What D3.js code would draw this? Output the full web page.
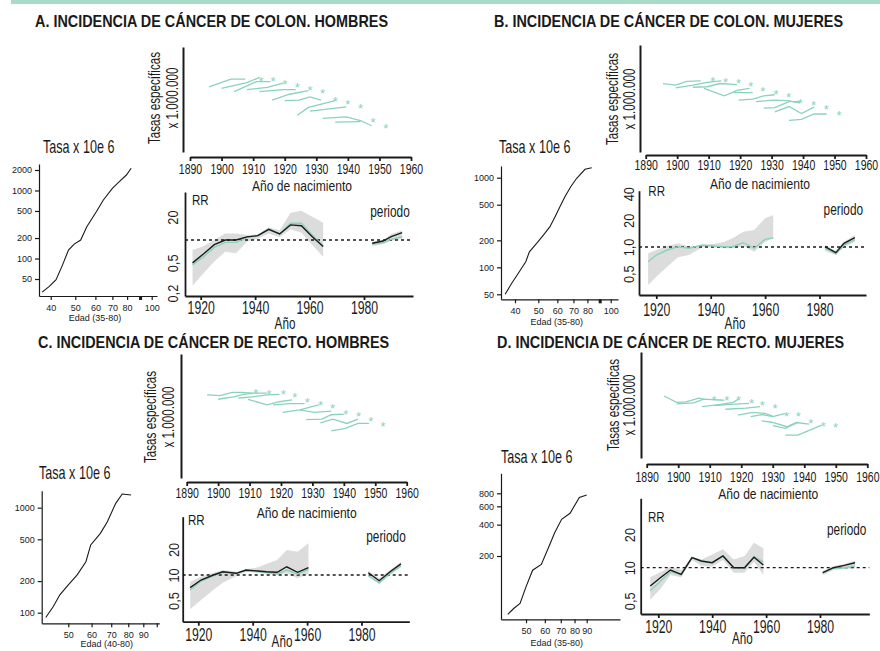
<!DOCTYPE html>
<html>
<head>
<meta charset="utf-8">
<script src="https://cdn.jsdelivr.net/npm/d3@7"></script>
<style>
body { margin: 0; background: #fff; }
svg { display: block; font-family: "Liberation Sans", Arial, sans-serif; }
</style>
</head>
<body>
<svg id="chart" width="880" height="651"></svg>
<script>
// ---- shared labels / ticks
const titles = [
  "A. INCIDENCIA DE CÁNCER DE COLON. HOMBRES",
  "B. INCIDENCIA DE CÁNCER DE COLON. MUJERES",
  "C. INCIDENCIA DE CÁNCER DE RECTO. HOMBRES",
  "D. INCIDENCIA DE CÁNCER DE RECTO. MUJERES"
];
const edadLabels = ["Edad (35-80)", "Edad (35-80)", "Edad (40-80)", "Edad (35-80)"];
const birthTicks = [1890, 1900, 1910, 1920, 1930, 1940, 1950, 1960];
const rrTicksX = [1920, 1940, 1960, 1980];

// ---- A. colon, hombres
const aStarYears = [1912.5, 1916.3, 1920, 1924, 1928, 1932, 1936, 1940, 1944, 1948, 1952];
const aStarVals = [70, 70, 67, 64, 61, 58, 51, 48, 44, 31, 25];
const aCohortLines = [
  [[1896, 62], [1903, 69.5], [1907.5, 69.5]],
  [[1900, 60.5], [1908, 66], [1912, 71]],
  [[1904, 57.5], [1911, 67], [1915.5, 67]],
  [[1908, 59.5], [1914.5, 61.5], [1919.5, 65.5]],
  [[1912, 57.5], [1919.5, 59.5], [1923.5, 59.5]],
  [[1916, 49.5], [1921.5, 55], [1927.5, 58.5]],
  [[1920, 49], [1924.5, 49.5], [1928, 52.5], [1931.5, 49.5]],
  [[1924, 35], [1927.5, 42.5], [1936, 49]],
  [[1928, 39], [1939.5, 43]],
  [[1932, 32], [1939.5, 33.5], [1944, 30], [1947.5, 25]],
  [[1936, 28.5], [1944, 29]]
];
const aAges = [37, 39.5, 42, 44.5, 47, 49.5, 52.5, 55.5, 60.5, 64.5, 70, 74, 79.5, 83];
const aRates = [32, 39, 49, 80, 133, 163, 187, 293, 487, 724, 1076, 1318, 1688, 2118];
const aAgeTicksY = [2000, 1000, 500, 200, 100, 50];
const aAgeTicksX = [40, 50, 60, 70, 80, 90, 100];
const aCohYears = [1917, 1921, 1925, 1929, 1933, 1937, 1941, 1945, 1949, 1953, 1957, 1961, 1965];
const aCohRR = [0.5, 0.655, 0.87, 1.0, 1.0, 1.1, 1.14, 1.38, 1.2, 1.58, 1.54, 1.1, 0.82];
const aCohRRGreen = [0.47, 0.6, 0.8, 0.93, 0.93, 1.085, 1.14, 1.38, 1.2, 1.66, 1.66, 1.16, 0.83];
const aCohLo = [0.25, 0.365, 0.52, 0.7, 0.67, 0.95, 1.05, 1.22, 1.085, 1.38, 1.25, 0.86, 0.6];
const aCohHi = [0.74, 0.83, 1.0, 1.22, 1.22, 1.16, 1.19, 1.47, 1.33, 2.29, 2.43, 2.03, 1.69];
const aPerYears = [1983, 1987, 1990, 1994];
const aPerRR = [0.905, 0.97, 1.105, 1.25];
const aPerRRGreen = [0.886, 0.92, 1.02, 1.105];
const aPerLo = [0.83, 0.886, 0.98, 1.04];
const aPerHi = [0.95, 1.0, 1.2, 1.33];
const aRRTicks = [2, 0.5, 0.2];
const aRRLabels = ["20", "0,5", "0,2"];

// ---- B. colon, mujeres
const bStarYears = [1911.3, 1915.4, 1919.5, 1923.4, 1927.2, 1931.4, 1935.4, 1939.1, 1943.3, 1947.4, 1951.4];
const bStarVals = [68, 67, 66.5, 64, 59, 56.5, 53.5, 48, 46, 42, 36.5];
const bCohortLines = [
  [[1895.5, 64], [1899.5, 62.5], [1903, 66], [1907.5, 66.5]],
  [[1899.5, 60], [1905, 62.5], [1909.5, 65], [1914, 66.5]],
  [[1905, 60.5], [1909.5, 61], [1913.5, 64], [1919, 63]],
  [[1908.5, 59.5], [1915, 52.5], [1919, 57.5], [1923, 59.5]],
  [[1918, 55.5], [1924, 55.5]],
  [[1919.5, 48.5], [1924, 49.5], [1927.5, 52.5], [1931, 53.5]],
  [[1925, 47], [1930.5, 48.5], [1935, 48], [1939, 46]],
  [[1927.5, 41], [1931, 41.5], [1935.5, 47], [1939, 47]],
  [[1931, 37.5], [1935.5, 42.5], [1939.5, 36], [1943.5, 42]],
  [[1935.5, 29.5], [1939.5, 30.5], [1943.5, 35.5], [1947.5, 35.5]]
];
const bAges = [36.4, 38.7, 41.3, 44.4, 45.9, 49.2, 52.5, 55.9, 58.7, 61.5, 64.5, 68.2, 72.2, 78.2, 83.4];
const bRates = [50, 66, 86, 116, 149, 185, 229, 284, 367, 474, 614, 794, 985, 1241, 1294];
const bAgeTicksY = [1000, 500, 200, 100, 50];
const bAgeTicksX = [40, 50, 60, 70, 80, 90, 100];
const bCohYears = [1917, 1920, 1924, 1928, 1932, 1937, 1941, 1945, 1948, 1952, 1956, 1960, 1963];
const bCohRR = [];
const bCohRRGreen = [0.683, 0.812, 0.925, 1.008, 0.967, 1.053, 1.026, 1.008, 1.008, 1.118, 0.967, 1.22, 1.273];
const bCohLo = [0.372, 0.462, 0.6, 0.765, 0.812, 0.992, 0.992, 0.967, 0.967, 1.026, 0.885, 1.148, 1.25];
const bCohHi = [0.849, 0.925, 1.026, 1.1, 1.008, 1.053, 1.081, 1.148, 1.254, 1.488, 1.555, 2.11, 2.3];
const bPerYears = [1982, 1986, 1989, 1993];
const bPerRR = [1.008, 0.862, 1.1, 1.273];
const bPerRRGreen = [0.967, 0.834, 1.053, 1.2];
const bPerLo = [0.908, 0.812, 0.992, 1.148];
const bPerHi = [1.053, 0.908, 1.148, 1.366];
const bRRTicks = [4, 2, 1, 0.5];
const bRRLabels = ["40", "20", "1,0", "0,5"];

// ---- C. recto, hombres
const cStarYears = [1912, 1916.2, 1920.7, 1924.4, 1928.4, 1932.6, 1936.4, 1940.6, 1944.7, 1948.6, 1952.5];
const cStarVals = [70.5, 69.5, 69.5, 67, 63, 60.5, 58.5, 53.5, 52, 48, 43.5];
const cCohortLines = [
  [[1896.5, 67], [1900.5, 66.5], [1904.5, 69], [1907.5, 69], [1911, 68.5]],
  [[1900, 63.5], [1905, 65.5], [1908, 67.5], [1911.5, 68.5], [1915.5, 68.5]],
  [[1906.5, 64.5], [1911, 65.5], [1915.5, 67], [1919.5, 67.5]],
  [[1909.5, 63.5], [1915.5, 59], [1919.5, 61.5], [1923.5, 63]],
  [[1917.5, 59], [1923, 60], [1927.5, 60]],
  [[1920.5, 53], [1926, 55], [1932, 59]],
  [[1926, 55], [1930.5, 53], [1936, 54]],
  [[1928, 47], [1933, 47.5], [1936, 51], [1940, 51.5]],
  [[1932.5, 44.5], [1936.5, 47.5], [1941, 44], [1944.5, 47.5]],
  [[1936, 38], [1940.5, 40], [1944.5, 44], [1948, 44]]
];
const cAges = [41.9, 44.4, 46.8, 50, 53.6, 57.4, 59.6, 64.3, 67.9, 72.5, 76.3, 81.8];
const cRates = [90, 114, 148, 184, 229, 306, 442, 570, 736, 1101, 1350, 1322];
const cAgeTicksY = [1000, 500, 200, 100];
const cAgeTicksX = [50, 60, 70, 80, 90, 100];
const cCohYears = [1917, 1921, 1925.5, 1929, 1934, 1937.5, 1942, 1945, 1949, 1952.5, 1956.5, 1960.5];
const cCohRR = [0.709, 0.873, 1.0, 1.09, 1.047, 1.145, 1.114, 1.093, 1.076, 1.25, 1.076, 1.22];
const cCohRRGreen = [0.666, 0.85, 0.98, 1.076, 1.047, 1.12, 1.093, 1.085, 1.027, 1.145, 1.027, 1.167];
const cCohLo = [0.395, 0.508, 0.666, 0.81, 0.973, 1.093, 1.064, 1.027, 1.0, 1.047, 0.915, 1.027];
const cCohHi = [0.834, 0.955, 1.064, 1.145, 1.093, 1.167, 1.23, 1.35, 1.5, 1.97, 1.88, 2.36];
const cPerYears = [1982.5, 1986.5, 1990.5, 1994.5];
const cPerRR = [1.064, 0.857, 1.093, 1.35];
const cPerRRGreen = [0.98, 0.81, 1.047, 1.276];
const cPerLo = [0.955, 0.784, 1.0, 1.23];
const cPerHi = [1.12, 0.915, 1.145, 1.43];
const cRRTicks = [2, 1, 0.5];
const cRRLabels = ["20", "10", "0,5"];

// ---- D. recto, mujeres
const dStarYears = [1911.4, 1915.4, 1919.1, 1923.3, 1926.7, 1930.7, 1934.4, 1938.1, 1942.1, 1946, 1949.9];
const dStarVals = [57, 56.5, 57, 54, 52, 49, 42, 41.5, 35, 32.5, 31];
const dCohortLines = [
  [[1895.5, 58.5], [1899.5, 52.5], [1902.5, 53], [1906.5, 56.5], [1908, 55.5]],
  [[1899.5, 51], [1905, 52], [1908, 55.5], [1914.5, 54.5]],
  [[1907.5, 48.5], [1913.5, 50.5], [1917.5, 52.5], [1919, 55.5]],
  [[1911.5, 49.5], [1916.5, 50.5], [1922.5, 51.5]],
  [[1915, 46], [1921.5, 47], [1926, 48.5]],
  [[1919, 40.5], [1923.5, 43], [1927.5, 42], [1930, 39.5]],
  [[1923, 39], [1926.5, 41], [1930, 39], [1934, 42]],
  [[1926.5, 35], [1930, 33.5], [1934.5, 29.5], [1937.5, 33.5], [1941.5, 32]],
  [[1930, 30.5], [1934, 28], [1938, 33.5]],
  [[1934, 21.5], [1938, 21.5], [1945.5, 31]]
];
const dAges = [41.9, 44.5, 47.2, 50, 53.3, 58, 62, 66, 70.6, 76.6, 83.8, 90];
const dRates = [55, 63, 70, 101, 146, 166, 237, 334, 450, 514, 731, 771];
const dAgeTicksY = [800, 600, 400, 200];
const dAgeTicksX = [50, 60, 70, 80, 90];
const dCohYears = [1917, 1921, 1924.5, 1928.5, 1932.5, 1936, 1940, 1944, 1948, 1952, 1955.5, 1959];
const dCohRR = [0.682, 0.818, 0.953, 0.871, 1.233, 1.15, 1.11, 1.277, 1.0, 1.0, 1.243, 1.058];
const dCohRRGreen = [0.618, 0.762, 0.92, 0.858, 1.233, 1.13, 1.11, 1.277, 1.0, 1.0, 1.26, 1.13];
const dCohLo = [0.51, 0.65, 0.858, 0.818, 1.175, 1.036, 1.02, 1.175, 0.9, 0.9, 1.13, 0.858];
const dCohHi = [0.818, 0.92, 1.02, 0.953, 1.26, 1.19, 1.32, 1.47, 1.19, 1.277, 1.69, 1.5];
const dPerYears = [1981, 1985, 1989, 1993];
const dPerRR = [0.9, 1.0, 1.05, 1.11];
const dPerRRGreen = [0.89, 0.99, 1.0, 1.036];
const dPerLo = [0.858, 0.953, 0.973, 0.99];
const dPerHi = [0.93, 1.036, 1.08, 1.16];
const dRRTicks = [2, 1, 0.5];
const dRRLabels = ["20", "10", "0,5"];

// ---- layout (pixel positions of each sub-plot)
const layoutA = {
  title: [35, 26.5],
  top: {ax: 183, y0: 47, y1: 152, xy: 157, x0: 190, x1: 411, pad: 2.6},
  ylab: [154, 172, 98], xlab: [302, 186], tasa: [43, 147],
  age: {ax: 39, y0: 164, xy: 296, x1: 157, yA: [2000, 170, 50, 279], xA: [40, 50.7, 100, 151.7]},
  edad: [95, 318.3],
  rr: {ax: 185, y0: 192, xy: 296, x1: 413, xA: [1920, 200.7, 1980, 364], yA: [1, 240, 0.1, 316], labD: 12, pad: 1.7},
  rrLab: [192, 200], per: [390, 211], ano: [285, 323]
};
const layoutB = {
  title: [494, 26.5],
  top: {ax: 640, y0: 45, y1: 152, xy: 155, x0: 645.7, x1: 866, pad: 0.8},
  ylab: [612, 629, 99], xlab: [760, 184], tasa: [499, 147],
  age: {ax: 501, y0: 166, xy: 299.3, x1: 618, yA: [1000, 177.7, 50, 294.3], xA: [40, 515, 100, 610.7]},
  edad: [556.7, 321.7],
  rr: {ax: 639, y0: 190.7, xy: 295, x1: 866, xA: [1920, 656.3, 1980, 819.5], yA: [1, 247, 0.1, 335.6], labD: 10.7, pad: 4.7},
  rrLab: [648.3, 191], per: [843.3, 209.3], ano: [735, 323.3]
};
const layoutC = {
  title: [38, 348.3],
  top: {ax: 181, y0: 354, y1: 478, xy: 482, x0: 186.7, x1: 406.7, pad: 1.6},
  ylab: [150, 168, 417], xlab: [306.7, 512.5], tasa: [39, 473],
  age: {ax: 41.7, y0: 490.7, xy: 623.3, x1: 159.3, yA: [1000, 507.7, 100, 612.7], xA: [50, 68.3, 90, 143.3]},
  edad: [106.7, 644.3],
  rr: {ax: 182.7, y0: 516.7, xy: 621.7, x1: 409.3, xA: [1920, 198.3, 1980, 361.5], yA: [1, 575, 0.1, 660], labD: 9.4, pad: 3},
  rrLab: [188, 520], per: [386, 536.7], ano: [282, 641]
};
const layoutD = {
  title: [497, 348.3],
  top: {ax: 641, y0: 352, y1: 458, xy: 464, x0: 646.7, x1: 867.3, pad: 3.1},
  ylab: [613.3, 629, 405], xlab: [768.3, 494], tasa: [501, 456.7],
  age: {ax: 501, y0: 473.3, xy: 619.3, x1: 620, yA: [800, 493.3, 200, 556], xA: [50, 526, 90, 586.7]},
  edad: [556.7, 642.7],
  rr: {ax: 640.7, y0: 498.3, xy: 614, x1: 869.3, xA: [1920, 658.3, 1980, 820], yA: [1, 567.7, 0.1, 677.7], labD: 10.7, pad: 2.4},
  rrLab: [648, 516.7], per: [846.7, 529], ano: [742.3, 638.3]
};

const panels = [
  {L: layoutA, title: titles[0], edad: edadLabels[0], starYears: aStarYears, starVals: aStarVals, lines: aCohortLines,
   ages: aAges, rates: aRates, ageTicksY: aAgeTicksY, ageTicksX: aAgeTicksX, noLabel: [90], thick: 90,
   coh: [aCohYears, aCohRR, aCohRRGreen, aCohLo, aCohHi], per: [aPerYears, aPerRR, aPerRRGreen, aPerLo, aPerHi],
   rrTicks: aRRTicks, rrLabels: aRRLabels},
  {L: layoutB, title: titles[1], edad: edadLabels[1], starYears: bStarYears, starVals: bStarVals, lines: bCohortLines,
   ages: bAges, rates: bRates, ageTicksY: bAgeTicksY, ageTicksX: bAgeTicksX, noLabel: [90], thick: 90,
   coh: [bCohYears, bCohRR, bCohRRGreen, bCohLo, bCohHi], per: [bPerYears, bPerRR, bPerRRGreen, bPerLo, bPerHi],
   rrTicks: bRRTicks, rrLabels: bRRLabels},
  {L: layoutC, title: titles[2], edad: edadLabels[2], starYears: cStarYears, starVals: cStarVals, lines: cCohortLines,
   ages: cAges, rates: cRates, ageTicksY: cAgeTicksY, ageTicksX: cAgeTicksX, noLabel: [100], thick: null,
   coh: [cCohYears, cCohRR, cCohRRGreen, cCohLo, cCohHi], per: [cPerYears, cPerRR, cPerRRGreen, cPerLo, cPerHi],
   rrTicks: cRRTicks, rrLabels: cRRLabels},
  {L: layoutD, title: titles[3], edad: edadLabels[3], starYears: dStarYears, starVals: dStarVals, lines: dCohortLines,
   ages: dAges, rates: dRates, ageTicksY: dAgeTicksY, ageTicksX: dAgeTicksX, noLabel: [], thick: null,
   coh: [dCohYears, dCohRR, dCohRRGreen, dCohLo, dCohHi], per: [dPerYears, dPerRR, dPerRRGreen, dPerLo, dPerHi],
   rrTicks: dRRTicks, rrLabels: dRRLabels}
];

const GREEN = "#8ad3ba", BAND = "#dcdcdc", INK = "#1a1a1a";
const svg = d3.select("#chart");

svg.append("rect").attr("x", 11).attr("y", 0).attr("width", 869).attr("height", 4).attr("fill", "#a8dcc8");

// scale fixed by two known points, then stretched to the axis extent
function anchored(scale, v1, p1, v2, p2, pa, pb) {
  scale.domain([v1, v2]).range([p1, p2]);
  return scale.domain([scale.invert(pa), scale.invert(pb)]).range([pa, pb]);
}

// narrow-looking text: Liberation Sans squeezed horizontally
function txt(g, x, y, s, size, o = {}) {
  return g.append("text")
    .attr("transform", `translate(${x},${y})` + (o.rot ? ` rotate(${o.rot})` : "") + ` scale(${o.sx ?? 0.74},1)`)
    .attr("text-anchor", o.anchor || "middle")
    .attr("dy", o.dy ?? "0.35em")
    .attr("font-size", size)
    .attr("font-weight", o.bold ? "bold" : null)
    .attr("fill", INK)
    .text(s);
}

function styleAxis(sel, w, fs, sx) {
  sel.attr("font-family", null).attr("font-size", null);
  sel.selectAll(".domain, .tick line").attr("stroke", INK).attr("stroke-width", w);
  if (fs) sel.selectAll(".tick text").attr("font-size", fs).attr("fill", INK)
    .attr("transform", sx !== 1 ? `scale(${sx},1)` : null);
}

function drawPanel(p) {
  const L = p.L, g = svg.append("g");
  txt(g, L.title[0], L.title[1], p.title, 16, {anchor: "start", dy: 0, bold: true, sx: 0.9});

  // cohort curves (Tasas específicas vs año de nacimiento)
  const tx = d3.scaleLinear().domain([1890, 1960]).range([L.top.x0, L.top.x1]);
  const ty = d3.scaleLinear().domain([0, 100]).range([L.top.y1, L.top.y0]);
  g.append("g").attr("transform", `translate(${L.top.ax},0)`)
    .call(d3.axisLeft(ty).tickValues([]).tickSizeOuter(0)).call(styleAxis, 2);
  g.append("g").attr("transform", `translate(0,${L.top.xy})`)
    .call(d3.axisBottom(tx).tickValues(birthTicks).tickFormat(d3.format("d"))
      .tickSize(4).tickSizeOuter(0).tickPadding(L.top.pad))
    .call(styleAxis, 1.8, 15, 0.7);
  const tline = d3.line().x(d => tx(d[0])).y(d => ty(d[1]));
  g.append("g").selectAll("path").data(p.lines).join("path")
    .attr("d", tline).attr("fill", "none").attr("stroke", GREEN).attr("stroke-width", 1.3);
  g.append("g").selectAll("text").data(d3.zip(p.starYears, p.starVals)).join("text")
    .attr("x", d => tx(d[0])).attr("y", d => ty(d[1])).attr("dy", "0.55em")
    .attr("text-anchor", "middle").attr("font-size", 13).attr("fill", GREEN).text("*");
  txt(g, L.ylab[0], L.ylab[2], "Tasas específicas", 16, {rot: -90, sx: 0.73});
  txt(g, L.ylab[1], L.ylab[2], "x 1.000.000", 16, {rot: -90, sx: 0.73});
  txt(g, L.xlab[0], L.xlab[1], "Año de nacimiento", 15.5, {sx: 0.78});
  txt(g, L.tasa[0], L.tasa[1], "Tasa x 10e 6", 17.5, {anchor: "start", sx: 0.72});

  // age curve
  const ax = anchored(d3.scaleLog(), ...L.age.xA, L.age.ax, L.age.x1);
  const ay = anchored(d3.scaleLog(), ...L.age.yA, L.age.xy, L.age.y0);
  g.append("g").attr("transform", `translate(${L.age.ax},0)`)
    .call(d3.axisLeft(ay).tickValues(p.ageTicksY).tickFormat(d3.format("d"))
      .tickSize(4).tickSizeOuter(0).tickPadding(3))
    .call(styleAxis, 1.2, 9, 1);
  const agx = g.append("g").attr("transform", `translate(0,${L.age.xy})`)
    .call(d3.axisBottom(ax).tickValues(p.ageTicksX).tickFormat(d => p.noLabel.includes(d) ? "" : d)
      .tickSize(4).tickSizeOuter(0).tickPadding(4.5))
    .call(styleAxis, 1.2, 9, 1);
  agx.selectAll(".tick").filter(d => d === p.thick).select("line").attr("stroke-width", 3);
  g.append("path").datum(d3.zip(p.ages, p.rates))
    .attr("d", d3.line().x(d => ax(d[0])).y(d => ay(d[1])))
    .attr("fill", "none").attr("stroke", INK).attr("stroke-width", 1.1);
  txt(g, L.edad[0], L.edad[1], p.edad, 9, {sx: 1});

  // RR plot
  const rx = anchored(d3.scaleLinear(), ...L.rr.xA, L.rr.ax, L.rr.x1);
  const ry = anchored(d3.scaleLog(), ...L.rr.yA, L.rr.xy, L.rr.y0);
  const band = d3.area().x(d => rx(d[0])).y0(d => ry(d[1])).y1(d => ry(d[2]));
  const rline = d3.line().x(d => rx(d[0])).y(d => ry(d[1]));
  for (const s of [p.coh, p.per]) {
    g.append("path").datum(d3.zip(s[0], s[3], s[4])).attr("d", band).attr("fill", BAND);
  }
  g.append("line").attr("x1", L.rr.ax).attr("x2", L.rr.x1).attr("y1", ry(1)).attr("y2", ry(1))
    .attr("stroke", INK).attr("stroke-width", 1.3).attr("stroke-dasharray", "3,3");
  for (const s of [p.coh, p.per]) {
    g.append("path").datum(d3.zip(s[0], s[2])).attr("d", rline)
      .attr("fill", "none").attr("stroke", GREEN).attr("stroke-width", 1.4);
    if (s[1].length) g.append("path").datum(d3.zip(s[0], s[1])).attr("d", rline)
      .attr("fill", "none").attr("stroke", INK).attr("stroke-width", 1.4);
  }
  const ryAxis = g.append("g").attr("transform", `translate(${L.rr.ax},0)`)
    .call(d3.axisLeft(ry).tickValues(p.rrTicks).tickFormat((d, i) => p.rrLabels[i])
      .tickSize(0).tickSizeOuter(0))
    .call(styleAxis, 1.8, 15, 1);
  ryAxis.selectAll(".tick text").attr("x", 0).attr("y", -L.rr.labD).attr("dy", "0.35em")
    .attr("text-anchor", "middle").attr("transform", "rotate(-90) scale(0.85,1)");
  g.append("g").attr("transform", `translate(0,${L.rr.xy})`)
    .call(d3.axisBottom(rx).tickValues(rrTicksX).tickFormat(d3.format("d"))
      .tickSize(4).tickSizeOuter(0).tickPadding(L.rr.pad))
    .call(styleAxis, 1.8, 18, 0.68);
  txt(g, L.rrLab[0], L.rrLab[1], "RR", 15, {anchor: "start", sx: 0.77});
  txt(g, L.per[0], L.per[1], "periodo", 16, {sx: 0.74});
  txt(g, L.ano[0], L.ano[1], "Año", 16, {sx: 0.73});
}

panels.forEach(drawPanel);
</script>
</body>
</html>
